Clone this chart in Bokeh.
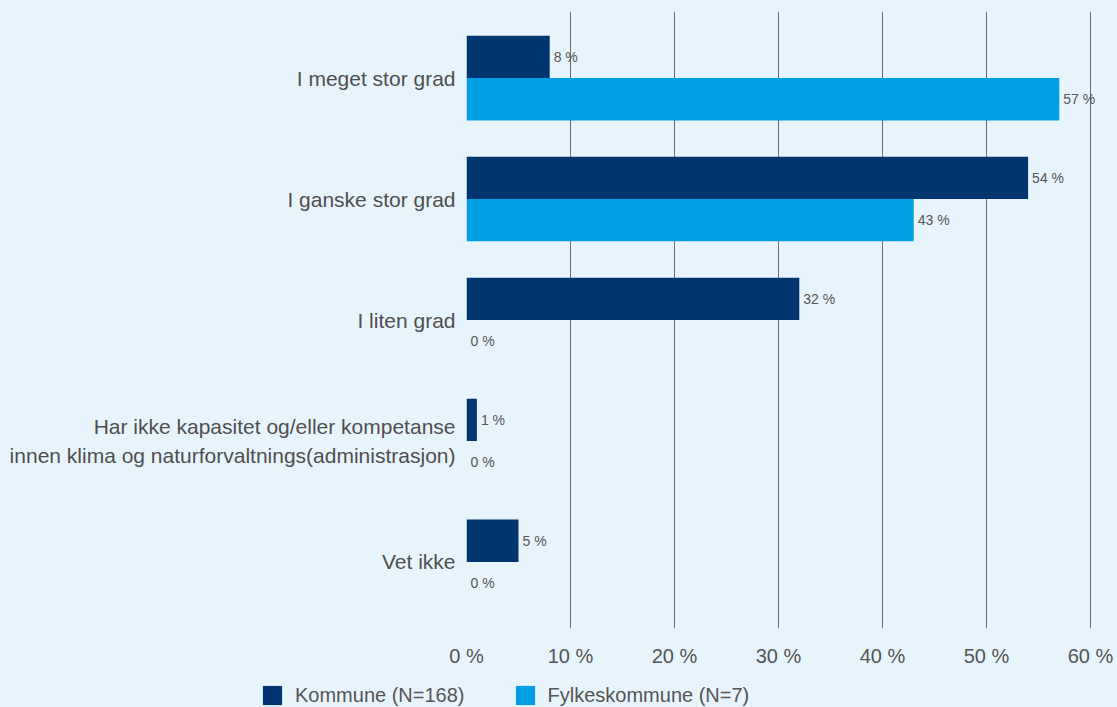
from bokeh.plotting import figure
from bokeh.layouts import column, row
from bokeh.models import (FactorRange, Range1d, FixedTicker, PrintfTickFormatter,
                          ColumnDataSource, LabelSet, Legend, LegendItem)
from bokeh.core.properties import value
from bokeh.transform import dodge
from bokeh.embed import file_html
from bokeh.resources import INLINE

categories = [
    "I meget stor grad",
    "I ganske stor grad",
    "I liten grad",
    "Har ikke kapasitet og/eller kompetanse\ninnen klima og naturforvaltnings(administrasjon)",
    "Vet ikke",
]
kommune = [8, 54, 32, 1, 5]
fylkeskommune = [57, 43, 0, 0, 0]
x_ticks = [0, 10, 20, 30, 40, 50, 60]
series_names = ["Kommune (N=168)", "Fylkeskommune (N=7)"]

BG = "#E8F4FC"
DARK = "#00356F"
LIGHT = "#009FE3"
FONT = "Liberation Sans"

src = ColumnDataSource(dict(
    cat=categories,
    k=kommune,
    f=fylkeskommune,
    kl=[f"{v} %" for v in kommune],
    fl=[f"{v} %" for v in fylkeskommune],
))

y_range = FactorRange(factors=list(reversed(categories)),
                      range_padding=0.05, range_padding_units="absolute")

# frame spans x=466..1117 px; 10 % = 104 px, so the right edge is ~62.6 %
p = figure(width=1117, height=680, y_range=y_range, x_range=Range1d(0, 651 / 10.4),
           output_backend="svg", toolbar_location=None,
           min_border_left=466, min_border_right=0,
           min_border_top=11, min_border_bottom=52)
p.background_fill_color = BG
p.border_fill_color = BG
p.outline_line_color = None

rk = p.hbar(y=dodge("cat", 0.175, range=y_range), right="k", left=0, height=0.35,
            source=src, fill_color=DARK, line_color=None)
rf = p.hbar(y=dodge("cat", -0.175, range=y_range), right="f", left=0, height=0.35,
            source=src, fill_color=LIGHT, line_color=None)

for xf, yoff, tf in (("k", 0.175, "kl"), ("f", -0.175, "fl")):
    p.add_layout(LabelSet(x=xf, y=dodge("cat", yoff, range=y_range), text=tf,
                          source=src, x_offset=4, text_baseline="middle",
                          text_font=value(FONT), text_font_size=value("14px"),
                          text_color=value("#555555")))

p.ygrid.grid_line_color = None
p.xgrid.grid_line_color = "#6E6E6E"
p.xgrid.grid_line_width = 1
p.xgrid.ticker = FixedTicker(ticks=x_ticks)

p.xaxis.ticker = FixedTicker(ticks=x_ticks)
p.xaxis.formatter = PrintfTickFormatter(format="%d %%")
p.xaxis.axis_line_color = None
p.xaxis.major_tick_line_color = None
p.xaxis.minor_tick_line_color = None
p.xaxis.major_label_text_font = FONT
p.xaxis.major_label_text_font_size = "20px"
p.xaxis.major_label_text_color = "#555555"
p.xaxis.major_label_standoff = 10

p.yaxis.axis_line_color = None
p.yaxis.major_tick_line_color = None
p.yaxis.minor_tick_line_color = None
p.yaxis.major_label_text_font = FONT
p.yaxis.major_label_text_font_size = "21px"
p.yaxis.major_label_text_color = "#4F4F4F"
p.yaxis.major_label_standoff = 5
p.yaxis.major_label_text_line_height = 1.3

# legend strip below the chart
lg = figure(width=1117, height=27, x_range=Range1d(0, 1), y_range=Range1d(0, 1),
            x_axis_type=None, y_axis_type=None,
            output_backend="svg", toolbar_location=None,
            min_border_left=0, min_border_right=0, min_border_top=0, min_border_bottom=0)
lg.background_fill_color = BG
lg.border_fill_color = BG
lg.outline_line_color = None
# zero-width placeholder bars: they only supply the legend swatches
placeholder = ColumnDataSource(dict(y=[0.5], right=[0]))
lk = lg.hbar(y="y", right="right", left=0, height=0.5, source=placeholder,
             fill_color=DARK, line_color=None)
lf = lg.hbar(y="y", right="right", left=0, height=0.5, source=placeholder,
             fill_color=LIGHT, line_color=None)

legend = Legend(items=[LegendItem(label=series_names[0], renderers=[lk]),
                       LegendItem(label=series_names[1], renderers=[lf])],
                orientation="horizontal", location=(260, 0),
                glyph_width=24, glyph_height=24, label_standoff=11, spacing=48,
                padding=0, margin=0, border_line_color=None,
                background_fill_alpha=0,
                label_text_font=FONT, label_text_font_size="20px",
                label_text_color="#555555")
lg.add_layout(legend, "center")

layout = column(p, row(lg, spacing=0), spacing=0)

html = file_html(layout, INLINE)
html = html.replace("</head>", "<style>body{background:#E8F4FC;}</style></head>", 1)
open("out.html", "w").write(html)
